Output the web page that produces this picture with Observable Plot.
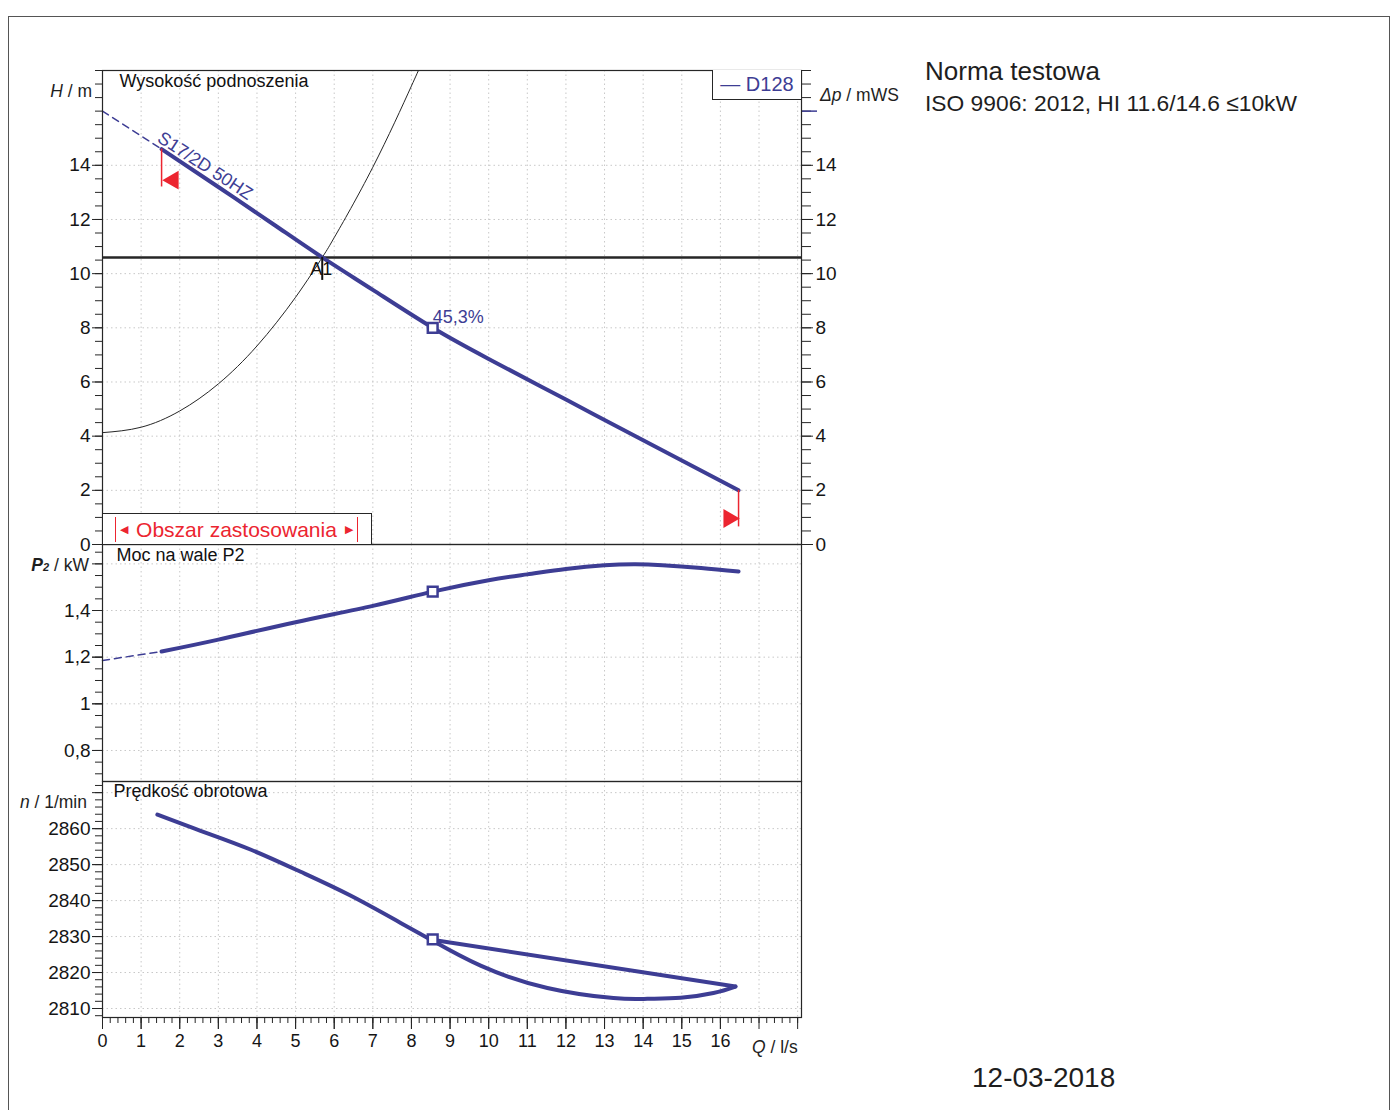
<!DOCTYPE html>
<html><head><meta charset="utf-8">
<script src="https://cdn.jsdelivr.net/npm/d3@7"></script>
<script src="https://cdn.jsdelivr.net/npm/@observablehq/plot@0.6"></script>
<style>
body{margin:0;background:#fff;font-family:"Liberation Sans",Arial,sans-serif;}
#page{position:relative;width:1391px;height:1110px;overflow:hidden;background:#fff;}
#page svg{position:absolute;left:0;}
.lab{position:absolute;white-space:nowrap;line-height:1;color:#1e1e1e;}
</style></head><body><div id="page"></div>
<script>
// ---------- data ----------
const qTickLabels = [0,1,2,3,4,5,6,7,8,9,10,11,12,13,14,15,16];
const qTickMajor = [0,1,2,3,4,5,6,7,8,9,10,11,12,13,14,15,16,17,18];
const hTickLabels = [0,2,4,6,8,10,12,14];
const pTickLabels = [0.8,1,1.2,1.4];
const pTickMajor = [0.8,1,1.2,1.4,1.6];
const nTickLabels = [2810,2820,2830,2840,2850,2860];
const nTickMajor = [2810,2820,2830,2840,2850,2860,2870];

// pump head curve H(Q) (S17/2D 50HZ)
const pumpDashQ = [0, 1.53];
const pumpDashH = [16.0, 14.6];
const pumpQ = [1.53, 3, 4.5, 5.69, 7, 8.55, 10, 12, 14, 16.47];
const pumpH = [14.6, 13.2, 11.75, 10.6, 9.4, 8.0, 6.85, 5.35, 3.85, 2.0];
// system curve
const sysQ = [0, 1, 2, 3, 4, 5, 5.69, 6, 7, 8, 8.4];
const sysH = [4.13, 4.33, 4.93, 5.93, 7.33, 9.13, 10.6, 11.33, 13.93, 16.93, 18.2];
// static head line
const staticHead = [10.6];
// power P2(Q)
const powDashQ = [0, 1.53];
const powDashP = [1.186, 1.224];
const powQ = [1.53, 3, 5, 7, 8.55, 10, 11, 12, 13, 13.8, 14.5, 15.5, 16.47];
const powP = [1.224, 1.275, 1.35, 1.42, 1.481, 1.53, 1.555, 1.578, 1.594, 1.598, 1.594, 1.582, 1.567];
// speed n(Q): main + lower branch, then straight return branch
const spdQ = [1.42, 2.54, 3.83, 5.13, 6.42, 7.72, 8.49, 9.79, 11.52, 13.23, 14.11, 14.97, 15.82, 16.39];
const spdN = [2863.9, 2859.4, 2854.2, 2848.0, 2841.4, 2833.8, 2829.2, 2821.9, 2815.7, 2812.9, 2812.7, 2813.0, 2814.3, 2816.1];
const spdBackQ = [16.39, 8.49];
const spdBackN = [2816.1, 2829.2];
// duty point
const dutyQ = [8.55];
const dutyH = [8.0];
const dutyP = [1.481];
const dutyN = [2829.2];
const dutyEff = ["45,3%"];
const dutyName = ["A1"];
const dutyA1Q = [5.69];
const dutyA1H = [10.6];
// application range limits
const limQ = [1.53, 16.47];
const limLow = [13.2, 0.65];
const limHigh = [14.6, 2.0];
const limArrowQ = [1.83, 16.22];
const limArrowH = [13.45, 0.96];
const curveName = ["S17/2D 50HZ"];
const curveNameQ = [2.66];
const curveNameH = [13.98];
const pumpHeadAt0 = [16];

const titles = ["Wysokość podnoszenia", "Moc na wale P2", "Prędkość obrotowa"];

// ---------- helpers ----------
const zip = (qs, vs) => qs.map((q, i) => ({q, v: vs[i]}));
const blue = "#3d3d94", red = "#ec2530", ink = "#262626", txt = "#151515", gridC = "#c8c8c8";
const Qmax = 18.1;
const W = 900, ML = 102, MR = 99;
const font = {background: "transparent", fontFamily: "'Liberation Sans', Arial, sans-serif", fontSize: "17px", color: ink, overflow: "visible"};
const page = document.getElementById("page");
const comma = d => String(d).replace(".", ",");
const minor = (a, b, s) => d3.range(Math.round((b - a) / s) + 1).map(i => +(a + i * s).toFixed(4));
const TFS = 19; // tick label font size

function place(svg, top) { svg.style.top = top + "px"; page.appendChild(svg); }
const gridXMark = () => Plot.gridX({ticks: qTickMajor, stroke: gridC, strokeOpacity: 1, strokeDasharray: "1.5,3"});
const title = (t, dx, dy) => Plot.text([t], {text: d => d, frameAnchor: "top-left", dx, dy, textAnchor: "start", lineAnchor: "top", fontSize: 18, fill: "#111"});

// ---------- panel 1: head ----------
const p1 = Plot.plot({
  width: W, height: 560, marginLeft: ML, marginRight: MR, marginTop: 70, marginBottom: 16,
  x: {domain: [0, Qmax], axis: null, label: null},
  y: {domain: [0, 17.5], axis: null, label: null},
  style: font,
  marks: [
    gridXMark(),
    Plot.gridY({ticks: hTickLabels.slice(1), stroke: gridC, strokeOpacity: 1, strokeDasharray: "1.5,3"}),
    Plot.axisY({ticks: minor(0, 17.5, 0.5), anchor: "left", tickSize: 7, fill: "none", stroke: ink}),
    Plot.axisY({ticks: hTickLabels, anchor: "left", tickSize: 10, tickPadding: 2, stroke: ink, fill: txt, fontSize: TFS, label: null}),
    Plot.axisY({ticks: minor(0, 17.5, 0.5), anchor: "right", tickSize: 9, fill: "none", stroke: ink}),
    Plot.axisY({ticks: hTickLabels, anchor: "right", tickSize: 11, tickPadding: 3, stroke: ink, fill: txt, fontSize: TFS, label: null}),
    Plot.axisY({ticks: pumpHeadAt0, anchor: "right", tickSize: 15, fill: "none", stroke: blue, strokeWidth: 1.5}),
    Plot.ruleY(staticHead, {stroke: ink, strokeWidth: 2.5}),
    Plot.line(zip(sysQ, sysH), {x: "q", y: "v", stroke: ink, strokeWidth: 1, curve: "natural", clip: true}),
    Plot.line(zip(pumpDashQ, pumpDashH), {x: "q", y: "v", stroke: blue, strokeWidth: 1.5, strokeDasharray: "7,5"}),
    Plot.line(zip(pumpQ, pumpH), {x: "q", y: "v", stroke: blue, strokeWidth: 4, curve: "natural"}),
    Plot.ruleX(limQ.map((q, i) => ({q, lo: limLow[i], hi: limHigh[i]})), {x: "q", y1: "lo", y2: "hi", stroke: red, strokeWidth: 1.5}),
    Plot.dot([{q: limArrowQ[0], v: limArrowH[0]}], {x: "q", y: "v", symbol: "triangle", r: 7, fill: red, rotate: -90}),
    Plot.dot([{q: limArrowQ[1], v: limArrowH[1]}], {x: "q", y: "v", symbol: "triangle", r: 7, fill: red, rotate: 90}),
    Plot.ruleX([{q: dutyA1Q[0], lo: dutyA1H[0] - 0.85, hi: dutyA1H[0]}], {x: "q", y1: "lo", y2: "hi", stroke: "#111", strokeWidth: 2}),
    Plot.text([{q: dutyA1Q[0], v: dutyA1H[0], t: dutyName[0]}], {x: "q", y: "v", text: "t", dy: 12, dx: -1, fontSize: 18, fill: "#111"}),
    Plot.dot([{q: dutyQ[0], v: dutyH[0]}], {x: "q", y: "v", symbol: "square", r: 5.5, fill: "white", stroke: blue, strokeWidth: 2.5}),
    Plot.text([{q: dutyQ[0], v: dutyH[0], t: dutyEff[0]}], {x: "q", y: "v", text: "t", dx: 0, dy: -11, textAnchor: "start", fontSize: 18, fill: blue}),
    Plot.text([{q: curveNameQ[0], v: curveNameH[0], t: curveName[0]}], {x: "q", y: "v", text: "t", rotate: 33, fontSize: 18, fill: blue}),
    title(titles[0], 17, 4),
    Plot.frame({stroke: ink, strokeWidth: 1.2})
  ]
});
place(p1, 0);

// ---------- panel 2: power ----------
const p2 = Plot.plot({
  width: W, height: 237, marginLeft: ML, marginRight: MR, marginTop: 0, marginBottom: 0,
  x: {domain: [0, Qmax], axis: null, label: null},
  y: {domain: [0.667, 1.683], axis: null, label: null},
  style: font,
  marks: [
    gridXMark(),
    Plot.gridY({ticks: pTickMajor, stroke: gridC, strokeOpacity: 1, strokeDasharray: "1.5,3"}),
    Plot.axisY({ticks: minor(0.7, 1.65, 0.05), anchor: "left", tickSize: 7, fill: "none", stroke: ink}),
    Plot.axisY({ticks: pTickMajor, anchor: "left", tickSize: 10, fill: "none", stroke: ink}),
    Plot.axisY({ticks: pTickLabels, anchor: "left", tickSize: 10, tickPadding: 2, stroke: ink, fill: txt, fontSize: TFS, tickFormat: comma, label: null}),
    Plot.line(zip(powDashQ, powDashP), {x: "q", y: "v", stroke: blue, strokeWidth: 1.5, strokeDasharray: "7,5"}),
    Plot.line(zip(powQ, powP), {x: "q", y: "v", stroke: blue, strokeWidth: 4, curve: "natural"}),
    Plot.dot([{q: dutyQ[0], v: dutyP[0]}], {x: "q", y: "v", symbol: "square", r: 5.5, fill: "white", stroke: blue, strokeWidth: 2.5}),
    title(titles[1], 14, 4),
    Plot.frame({stroke: ink, strokeWidth: 1.2})
  ]
});
place(p2, 544);

// ---------- panel 3: speed ----------
const p3 = Plot.plot({
  width: W, height: 290, marginLeft: ML, marginRight: MR, marginTop: 0, marginBottom: 54,
  x: {domain: [0, Qmax], axis: null, label: null},
  y: {domain: [2807.5, 2873.1], axis: null, label: null},
  style: font,
  marks: [
    gridXMark(),
    Plot.gridY({ticks: nTickMajor, stroke: gridC, strokeOpacity: 1, strokeDasharray: "1.5,3"}),
    Plot.axisY({ticks: minor(2808, 2872, 2), anchor: "left", tickSize: 7, fill: "none", stroke: ink}),
    Plot.axisY({ticks: nTickMajor, anchor: "left", tickSize: 10, fill: "none", stroke: ink}),
    Plot.axisY({ticks: nTickLabels, anchor: "left", tickSize: 10, tickPadding: 2, stroke: ink, fill: txt, fontSize: TFS, tickFormat: d => String(d), label: null}),
    Plot.axisX({ticks: minor(0, 18, 0.2), anchor: "bottom", tickSize: 6, fill: "none", stroke: ink}),
    Plot.axisX({ticks: qTickMajor, anchor: "bottom", tickSize: 12, fill: "none", stroke: ink}),
    Plot.axisX({ticks: qTickLabels, anchor: "bottom", tickSize: 12, tickPadding: 5, stroke: ink, fill: txt, tickFormat: d => String(d), label: null, fontSize: 18}),
    Plot.line(zip(spdQ, spdN), {x: "q", y: "v", stroke: blue, strokeWidth: 4, curve: "natural"}),
    Plot.line(zip(spdBackQ, spdBackN), {x: "q", y: "v", stroke: blue, strokeWidth: 4, strokeLinecap: "round"}),
    Plot.dot([{q: dutyQ[0], v: dutyN[0]}], {x: "q", y: "v", symbol: "square", r: 5.5, fill: "white", stroke: blue, strokeWidth: 2.5}),
    title(titles[2], 11, 3),
    Plot.frame({stroke: ink, strokeWidth: 1.2})
  ]
});
place(p3, 781);

// ---------- HTML annotations ----------
function label(html, o) {
  const d = document.createElement("div");
  d.className = "lab";
  d.innerHTML = html;
  const s = o.size || 17;
  d.style.fontSize = s + "px";
  d.style.top = (o.cy - s / 2) + "px";
  if (o.left != null) d.style.left = o.left + "px";
  if (o.right != null) { d.style.left = (o.right - 200) + "px"; d.style.width = "200px"; d.style.textAlign = "right"; }
  if (o.color) d.style.color = o.color;
  page.appendChild(d);
  return d;
}
label("<i>H</i> / m", {right: 92, cy: 92, size: 17.5});
label("<i><b>P</b></i><span style='font-size:11px;font-style:italic;font-weight:bold'>2</span> / kW", {right: 89, cy: 566, size: 17.5});
label("<i>n</i> / 1/min", {right: 87, cy: 803, size: 17.5});
label("<i>Q</i> / l/s", {left: 752, cy: 1048, size: 17.5});
label("<i>Δp</i> / mWS", {left: 820, cy: 96, size: 17.5});
label("Norma testowa", {left: 925, cy: 71, size: 26});
label("ISO 9906: 2012, HI 11.6/14.6 ≤10kW", {left: 925, cy: 103, size: 22.8});
label("12-03-2018", {left: 972, cy: 1078, size: 28});

// legend box
const leg = document.createElement("div");
leg.style.cssText = `position:absolute;left:712px;top:70px;width:88px;height:29px;border:1.2px solid ${ink};border-top:none;border-right:none;background:#fff;color:${blue};font-size:20px;line-height:29px;text-align:center;white-space:nowrap;`;
leg.textContent = "— D128";
page.appendChild(leg);

// application range box
const box = document.createElement("div");
box.style.cssText = `position:absolute;left:103px;top:513px;width:268px;height:30px;border:1.2px solid ${ink};border-left:none;border-bottom:none;background:#fff;`;
const inner = document.createElement("div");
inner.style.cssText = `position:absolute;left:12px;top:3px;width:241px;height:25px;border-left:1.5px solid ${red};border-right:1.5px solid ${red};color:${red};font-size:21px;line-height:25px;display:flex;justify-content:space-between;align-items:center;white-space:nowrap;`;
inner.innerHTML = "<span style='font-size:11px;margin-left:4px'>◀</span><span>Obszar zastosowania</span><span style='font-size:11px;margin-right:4px'>▶</span>";
box.appendChild(inner);
page.appendChild(box);

// page frame
const fr = document.createElement("div");
fr.style.cssText = "position:absolute;left:8px;top:16px;width:1380px;height:1200px;border:1.5px solid #555;border-bottom:none;";
page.appendChild(fr);
</script>
</body></html>
